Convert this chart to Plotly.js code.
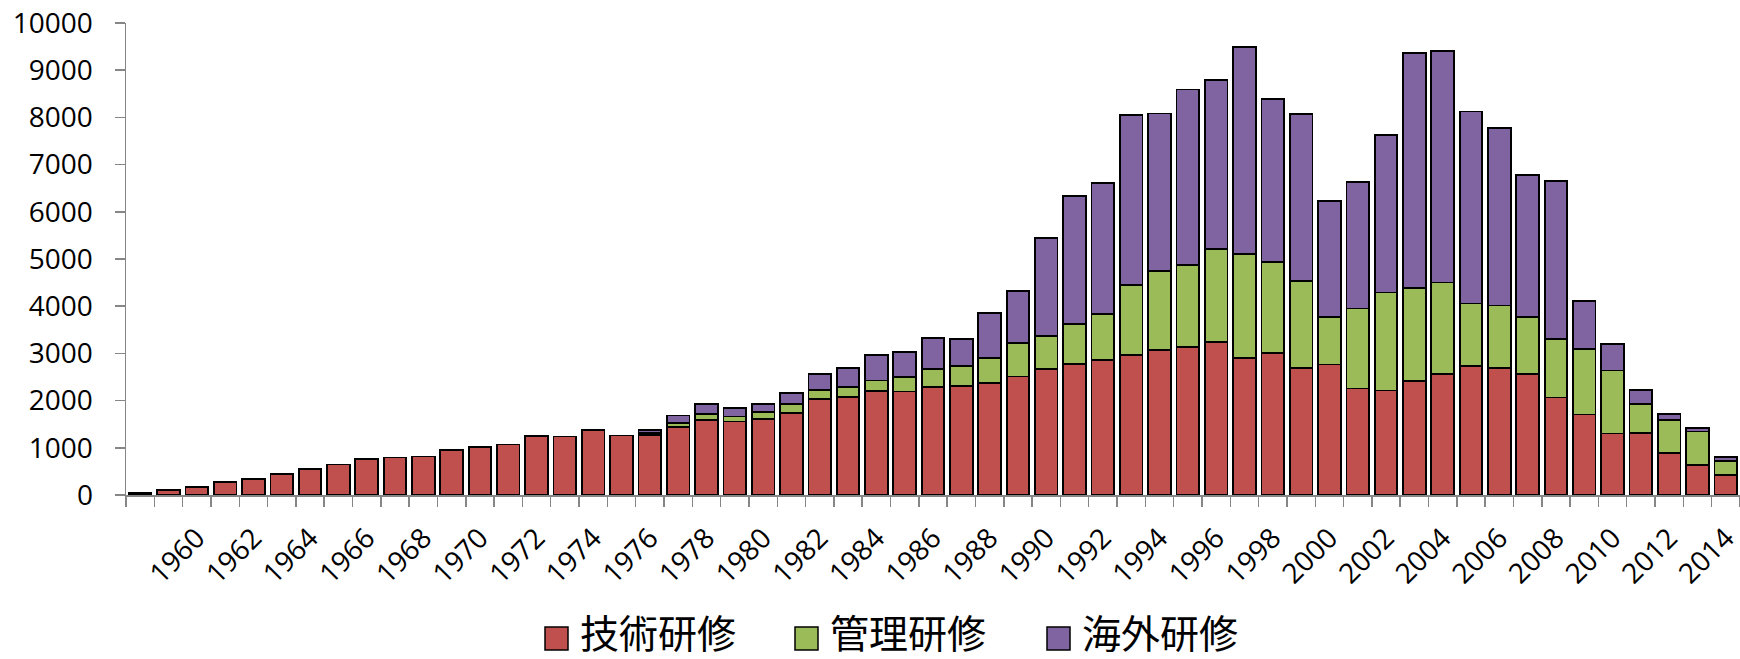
<!DOCTYPE html>
<html>
<head>
<meta charset="utf-8">
<script src="https://cdn.plot.ly/plotly-3.0.1.min.js"></script>
<style>html,body{margin:0;padding:0;background:#fff;}#chart{width:1740px;height:659px;}</style>
</head>
<body>
<div id="chart"></div>
<script>
const years = [1958,1959,1960,1961,1962,1963,1964,1965,1966,1967,1968,1969,1970,1971,1972,1973,1974,1975,1976,1977,1978,1979,1980,1981,1982,1983,1984,1985,1986,1987,1988,1989,1990,1991,1992,1993,1994,1995,1996,1997,1998,1999,2000,2001,2002,2003,2004,2005,2006,2007,2008,2009,2010,2011,2012,2013,2014];
const seriesNames = ["技術研修", "管理研修", "海外研修"];
const technical = [50,110,176,275,331,437,557,648,768,796,817,951,1015,1071,1254,1240,1381,1261,1275,1437,1593,1557,1607,1734,2037,2072,2199,2192,2290,2311,2375,2509,2678,2770,2861,2967,3066,3129,3235,2903,3002,2692,2763,2255,2213,2410,2572,2727,2692,2572,2065,1705,1304,1318,895,641,416];
const management = [null,null,null,null,null,null,null,null,null,null,null,null,null,null,null,null,null,null,40,85,127,106,148,197,190,211,225,310,388,430,528,719,683,852,980,1487,1684,1748,1973,2206,1931,1846,1000,1698,2079,1980,1931,1332,1325,1191,1240,1389,1332,613,698,705,310];
const overseas = [null,null,null,null,null,null,null,null,null,null,null,null,null,null,null,null,null,null,66,162,211,183,176,225,338,409,536,528,641,564,945,1092,2079,2706,2769,3594,3333,3714,3587,4384,3460,3538,2467,2679,3333,4969,4898,4066,3763,3016,3354,1015,570,296,127,78,84];
const labelYears = [1960,1962,1964,1966,1968,1970,1972,1974,1976,1978,1980,1982,1984,1986,1988,1990,1992,1994,1996,1998,2000,2002,2004,2006,2008,2010,2012,2014];
const colors = ["#C0504D", "#9BBB59", "#8064A2"];

const W = 1740, H = 659;
const M = {l: 126, r: 0, t: 23, b: 164};
const pw = W - M.l - M.r, ph = H - M.t - M.b;
const px = x => (x - M.l) / pw;
const py = y => (H - M.b - y) / ph;

const values = [technical, management, overseas];
const traces = values.map((v, i) => ({
  type: 'bar', x: years, y: v, name: seriesNames[i],
  marker: {color: colors[i], line: {color: '#000', width: 1.8}},
  hoverinfo: 'x+y+name'
}));

// custom legend
const legendSwatchX = [545, 795, 1047];
const shapes = [], annotations = [];
seriesNames.forEach((n, i) => {
  const x0 = legendSwatchX[i];
  shapes.push({type: 'rect', xref: 'paper', yref: 'paper',
    x0: px(x0), x1: px(x0 + 23), y0: py(650), y1: py(627),
    fillcolor: colors[i], line: {color: '#000', width: 1.5}});
  annotations.push({xref: 'paper', yref: 'paper', x: px(x0 + 33), y: py(631),
    xanchor: 'left', yanchor: 'middle', text: n, showarrow: false,
    font: {family: '"Noto Sans CJK JP", sans-serif', size: 39, color: '#000'}});
});

const layout = {
  width: W, height: H,
  margin: M,
  paper_bgcolor: '#fff', plot_bgcolor: '#fff',
  barmode: 'stack', bargap: 0.2,
  showlegend: false,
  font: {family: '"Open Sans", sans-serif', size: 28, color: '#000'},
  xaxis: {
    type: 'linear', range: [1957.5, 2014.5], autorange: false,
    tickmode: 'array', tickvals: labelYears, ticktext: labelYears.map(String),
    tickangle: -45, ticks: '', ticklabelstandoff: 14, ticklabeloverflow: 'allow',
    showline: true, linecolor: '#868686', linewidth: 1.5,
    showgrid: false, zeroline: false,
    minor: {tickmode: 'linear', tick0: 1957.5, dtick: 1, ticks: 'outside', ticklen: 10, tickcolor: '#868686', tickwidth: 1.5, showgrid: false},
    tickfont: {family: '"Open Sans", sans-serif', size: 28, color: '#000'}
  },
  yaxis: {
    range: [0, 10000], autorange: false, dtick: 1000, tick0: 0, tickformat: 'd',
    ticks: 'outside', ticklen: 10, tickcolor: '#868686', tickwidth: 1.5,
    showline: true, linecolor: '#868686', linewidth: 1.5,
    showgrid: false, zeroline: false, ticklabelstandoff: 16,
    tickfont: {family: '"Open Sans", sans-serif', size: 28, color: '#000'}
  },
  shapes: shapes,
  annotations: annotations
};

Plotly.newPlot('chart', traces, layout, {staticPlot: true, displayModeBar: false});
</script>
</body>
</html>
